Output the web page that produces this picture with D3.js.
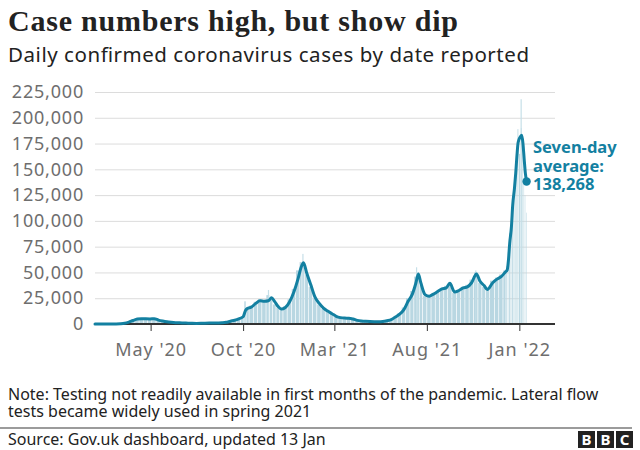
<!DOCTYPE html>
<html><head><meta charset="utf-8">
<script src="https://cdn.jsdelivr.net/npm/d3@7"></script>
<style>
body{margin:0;background:#fff;}
svg{display:block;}
</style></head><body>
<svg id="chart" width="640" height="450"></svg>
<script>
// ---------- data ----------
const dates = [
"2020-01-30","2020-02-06","2020-02-13","2020-02-20","2020-02-27","2020-03-05","2020-03-12","2020-03-19","2020-03-26",
"2020-04-02","2020-04-09","2020-04-16","2020-04-23","2020-04-30","2020-05-07","2020-05-14","2020-05-21","2020-05-28",
"2020-06-04","2020-06-11","2020-06-18","2020-06-25","2020-07-02","2020-07-09","2020-07-16","2020-07-23","2020-07-30",
"2020-08-06","2020-08-13","2020-08-20","2020-08-27","2020-09-03","2020-09-10","2020-09-17","2020-09-24","2020-10-01",
"2020-10-05","2020-10-08","2020-10-15","2020-10-22","2020-10-29","2020-11-05","2020-11-12","2020-11-17","2020-11-22",
"2020-11-28","2020-12-03","2020-12-10","2020-12-17","2020-12-24","2020-12-31","2021-01-05","2021-01-09","2021-01-14",
"2021-01-21","2021-01-28","2021-02-04","2021-02-11","2021-02-18","2021-02-25","2021-03-04","2021-03-11","2021-03-18",
"2021-03-25","2021-04-01","2021-04-08","2021-04-15","2021-04-22","2021-04-29","2021-05-06","2021-05-13","2021-05-20",
"2021-05-27","2021-06-03","2021-06-10","2021-06-17","2021-06-24","2021-07-01","2021-07-08","2021-07-14","2021-07-18",
"2021-07-22","2021-07-29","2021-08-05","2021-08-12","2021-08-19","2021-08-26","2021-09-02","2021-09-08","2021-09-16",
"2021-09-23","2021-09-30","2021-10-07","2021-10-14","2021-10-22","2021-10-28","2021-11-04","2021-11-09","2021-11-18",
"2021-11-25","2021-12-02","2021-12-09","2021-12-12","2021-12-14","2021-12-16","2021-12-19","2021-12-21","2021-12-24",
"2021-12-26","2021-12-28","2021-12-30","2022-01-02","2022-01-05","2022-01-07","2022-01-09","2022-01-11","2022-01-13"
];
const avgCases = [
0,0,0,0,10,40,200,650,1800,
3400,4800,5200,5000,4900,5100,3800,2900,2200,
1700,1300,1100,950,800,650,600,650,750,
850,950,1050,1200,1600,2700,3600,5000,7000,
13000,15000,16500,20000,22500,22000,22500,25500,22000,
17000,14500,16000,21500,31000,44000,55000,59500,50000,
38000,26000,20000,15500,12500,10000,7500,6200,5700,
5600,4800,3500,2900,2600,2400,2300,2300,2500,
3200,4200,6800,9500,14000,22000,29000,40000,48500,
40000,28500,27000,29000,31500,34000,35000,39500,31000,
32500,35000,36000,40000,48500,41500,37000,33500,40000,
43500,46000,50500,52500,62000,78000,95000,115000,132000,
146000,163000,176000,181000,183000,175000,160000,146000,138268
];
const dailyCases = [
0,0,0,0,20,60,300,900,2300,
4200,5200,5000,5400,5600,4800,3400,2600,2000,
1600,1200,1100,900,700,600,600,700,800,
900,1000,1100,1300,1900,3000,3900,6000,7500,
22000,16000,18000,21500,24000,23000,28000,24000,19000,
16000,15000,17500,24000,34000,52000,60000,60000,48000,
36000,25000,19000,14500,12000,9500,7000,6000,5800,
5400,4300,3200,2800,2500,2400,2300,2400,2700,
3600,4800,7500,10500,16000,25000,32000,46000,50000,
38000,27000,27500,30000,32000,35000,37000,39000,30000,
33000,36000,38000,43000,50000,40000,36000,34000,42000,
45000,48000,52000,56000,70000,88000,92000,120000,122000,
150000,170000,189000,165000,190000,178000,142000,125000,108000
];
const spikeDates = ["2020-11-12","2021-01-08","2021-07-15","2021-10-21","2022-01-04"];
const spikeCases = [33000,68000,55000,52000,218000];
const yTicks = [0,25000,50000,75000,100000,125000,150000,175000,200000,225000];
const xTickDates = ["2020-05-01","2020-10-01","2021-03-01","2021-08-01","2022-01-01"];
const labelLines = ["Seven-day","average:","138,268"];
const titleText = "Case numbers high, but show dip";
const subtitleText = "Daily confirmed coronavirus cases by date reported";
const noteLines = ["Note: Testing not readily available in first months of the pandemic. Lateral flow","tests became widely used in spring 2021"];
const sourceText = "Source: Gov.uk dashboard, updated 13 Jan";

// ---------- drawing ----------
const SANS = "'Noto Sans', 'Open Sans', sans-serif";
const svg = d3.select("#chart");
const parse = d3.utcParse("%Y-%m-%d");
const teal = "#1380a1";
const plotLeft = 95, plotRight = 555, plotTop = 92, plotBase = 324;

const x = d3.scaleUtc().domain([parse("2020-01-30"), parse("2022-03-01")]).range([plotLeft, plotRight]);
const y = d3.scaleLinear().domain([0, 225000]).range([plotBase, plotTop]);

// titles
svg.append("text").attr("x", 8).attr("y", 31).text(titleText)
  .attr("font-family", "'Liberation Serif', serif").attr("font-weight", 700)
  .attr("font-size", 30).attr("fill", "#222")
  .attr("textLength", 450).attr("lengthAdjust", "spacing");
svg.append("text").attr("x", 8).attr("y", 62).text(subtitleText)
  .attr("font-family", SANS).attr("font-size", 20.5).attr("fill", "#222")
  .attr("textLength", 521).attr("lengthAdjust", "spacing");

// y axis + grid
const gy = svg.append("g").attr("transform", `translate(${plotLeft},0)`)
  .call(d3.axisLeft(y).tickValues(yTicks).tickFormat(d3.format(","))
    .tickSizeInner(-(plotRight - plotLeft)).tickSizeOuter(0).tickPadding(11));
gy.select(".domain").remove();
gy.selectAll(".tick line").attr("stroke", "#dcdcdc").attr("stroke-width", 1);
gy.selectAll(".tick text").attr("fill", "#6e6e6e").attr("font-size", 18)
  .attr("font-family", SANS).attr("letter-spacing", 0.8);

// bars
const pd = dates.map(parse);
const bars = pd.map((d, i) => {
  const prev = i > 0 ? pd[i - 1] : null, next = i < pd.length - 1 ? pd[i + 1] : null;
  const l = prev ? new Date((+prev + +d) / 2) : new Date(+d - (+next - +d) / 2);
  const r = next ? new Date((+next + +d) / 2) : new Date(+d + (+d - +prev) / 2);
  return {l, r, v: dailyCases[i]};
});
svg.append("g").selectAll("rect").data(bars).join("rect")
  .attr("x", b => Math.max(plotLeft, x(b.l)))
  .attr("width", b => Math.max(0.4, x(b.r) - Math.max(plotLeft, x(b.l)) - 0.7))
  .attr("y", b => y(b.v)).attr("height", b => plotBase - y(b.v))
  .attr("fill", "#b9d7e2");
svg.append("g").selectAll("rect").data(spikeDates.map((d, i) => ({d: parse(d), v: spikeCases[i]}))).join("rect")
  .attr("x", s => x(s.d) - 0.6).attr("width", 1.2)
  .attr("y", s => y(s.v)).attr("height", s => plotBase - y(s.v))
  .attr("fill", "#c6dfe8");

// x axis
const gx = svg.append("g").attr("transform", `translate(0,${plotBase})`)
  .call(d3.axisBottom(x).tickValues(xTickDates.map(parse)).tickFormat(d3.utcFormat("%b '%y"))
    .tickSizeInner(7).tickSizeOuter(0).tickPadding(12));
gx.select(".domain").remove();
gx.selectAll(".tick line").attr("stroke", "#333");
gx.selectAll(".tick text").attr("fill", "#6e6e6e").attr("font-size", 18).attr("font-family", SANS)
  .attr("letter-spacing", 1);
svg.append("line").attr("x1", plotLeft).attr("x2", plotRight).attr("y1", plotBase).attr("y2", plotBase)
  .attr("stroke", "#333").attr("stroke-width", 2);

// line
const series = pd.map((d, i) => ({d, v: avgCases[i]}));
svg.append("path").datum(series)
  .attr("d", d3.line().x(p => x(p.d)).y(p => y(p.v)).curve(d3.curveMonotoneX))
  .attr("fill", "none").attr("stroke", teal).attr("stroke-width", 3)
  .attr("stroke-linejoin", "round").attr("stroke-linecap", "round");
const last = series[series.length - 1];
svg.append("circle").attr("cx", x(last.d)).attr("cy", y(last.v)).attr("r", 4.2).attr("fill", teal);

// label
svg.append("text").attr("font-family", SANS).attr("font-weight", 700).attr("font-size", 16.5).attr("fill", teal)
  .selectAll("tspan").data(labelLines).join("tspan")
  .attr("x", 533).attr("y", (d, i) => 153 + i * 18.5).text(d => d);

// note
svg.append("text").attr("font-family", SANS).attr("font-size", 16).attr("fill", "#222")
  .selectAll("tspan").data(noteLines).join("tspan")
  .attr("x", 8).attr("y", (d, i) => 400 + i * 17).text(d => d);

// footer
svg.append("line").attr("x1", 0).attr("x2", 632).attr("y1", 428).attr("y2", 428)
  .attr("stroke", "#7a7a7a").attr("stroke-width", 1.5);
svg.append("text").attr("x", 8).attr("y", 445).text(sourceText)
  .attr("font-family", SANS).attr("font-size", 16).attr("fill", "#222");
const logo = svg.append("g").attr("transform", "translate(578,431)");
["B", "B", "C"].forEach((ch, i) => {
  logo.append("rect").attr("x", i * 19).attr("y", 0).attr("width", 17).attr("height", 17).attr("fill", "#222");
  logo.append("text").attr("x", i * 19 + 8.5).attr("y", 14).attr("text-anchor", "middle")
    .attr("font-family", SANS).attr("font-weight", 700).attr("font-size", 15).attr("fill", "#fff").text(ch);
});
</script>
</body></html>
